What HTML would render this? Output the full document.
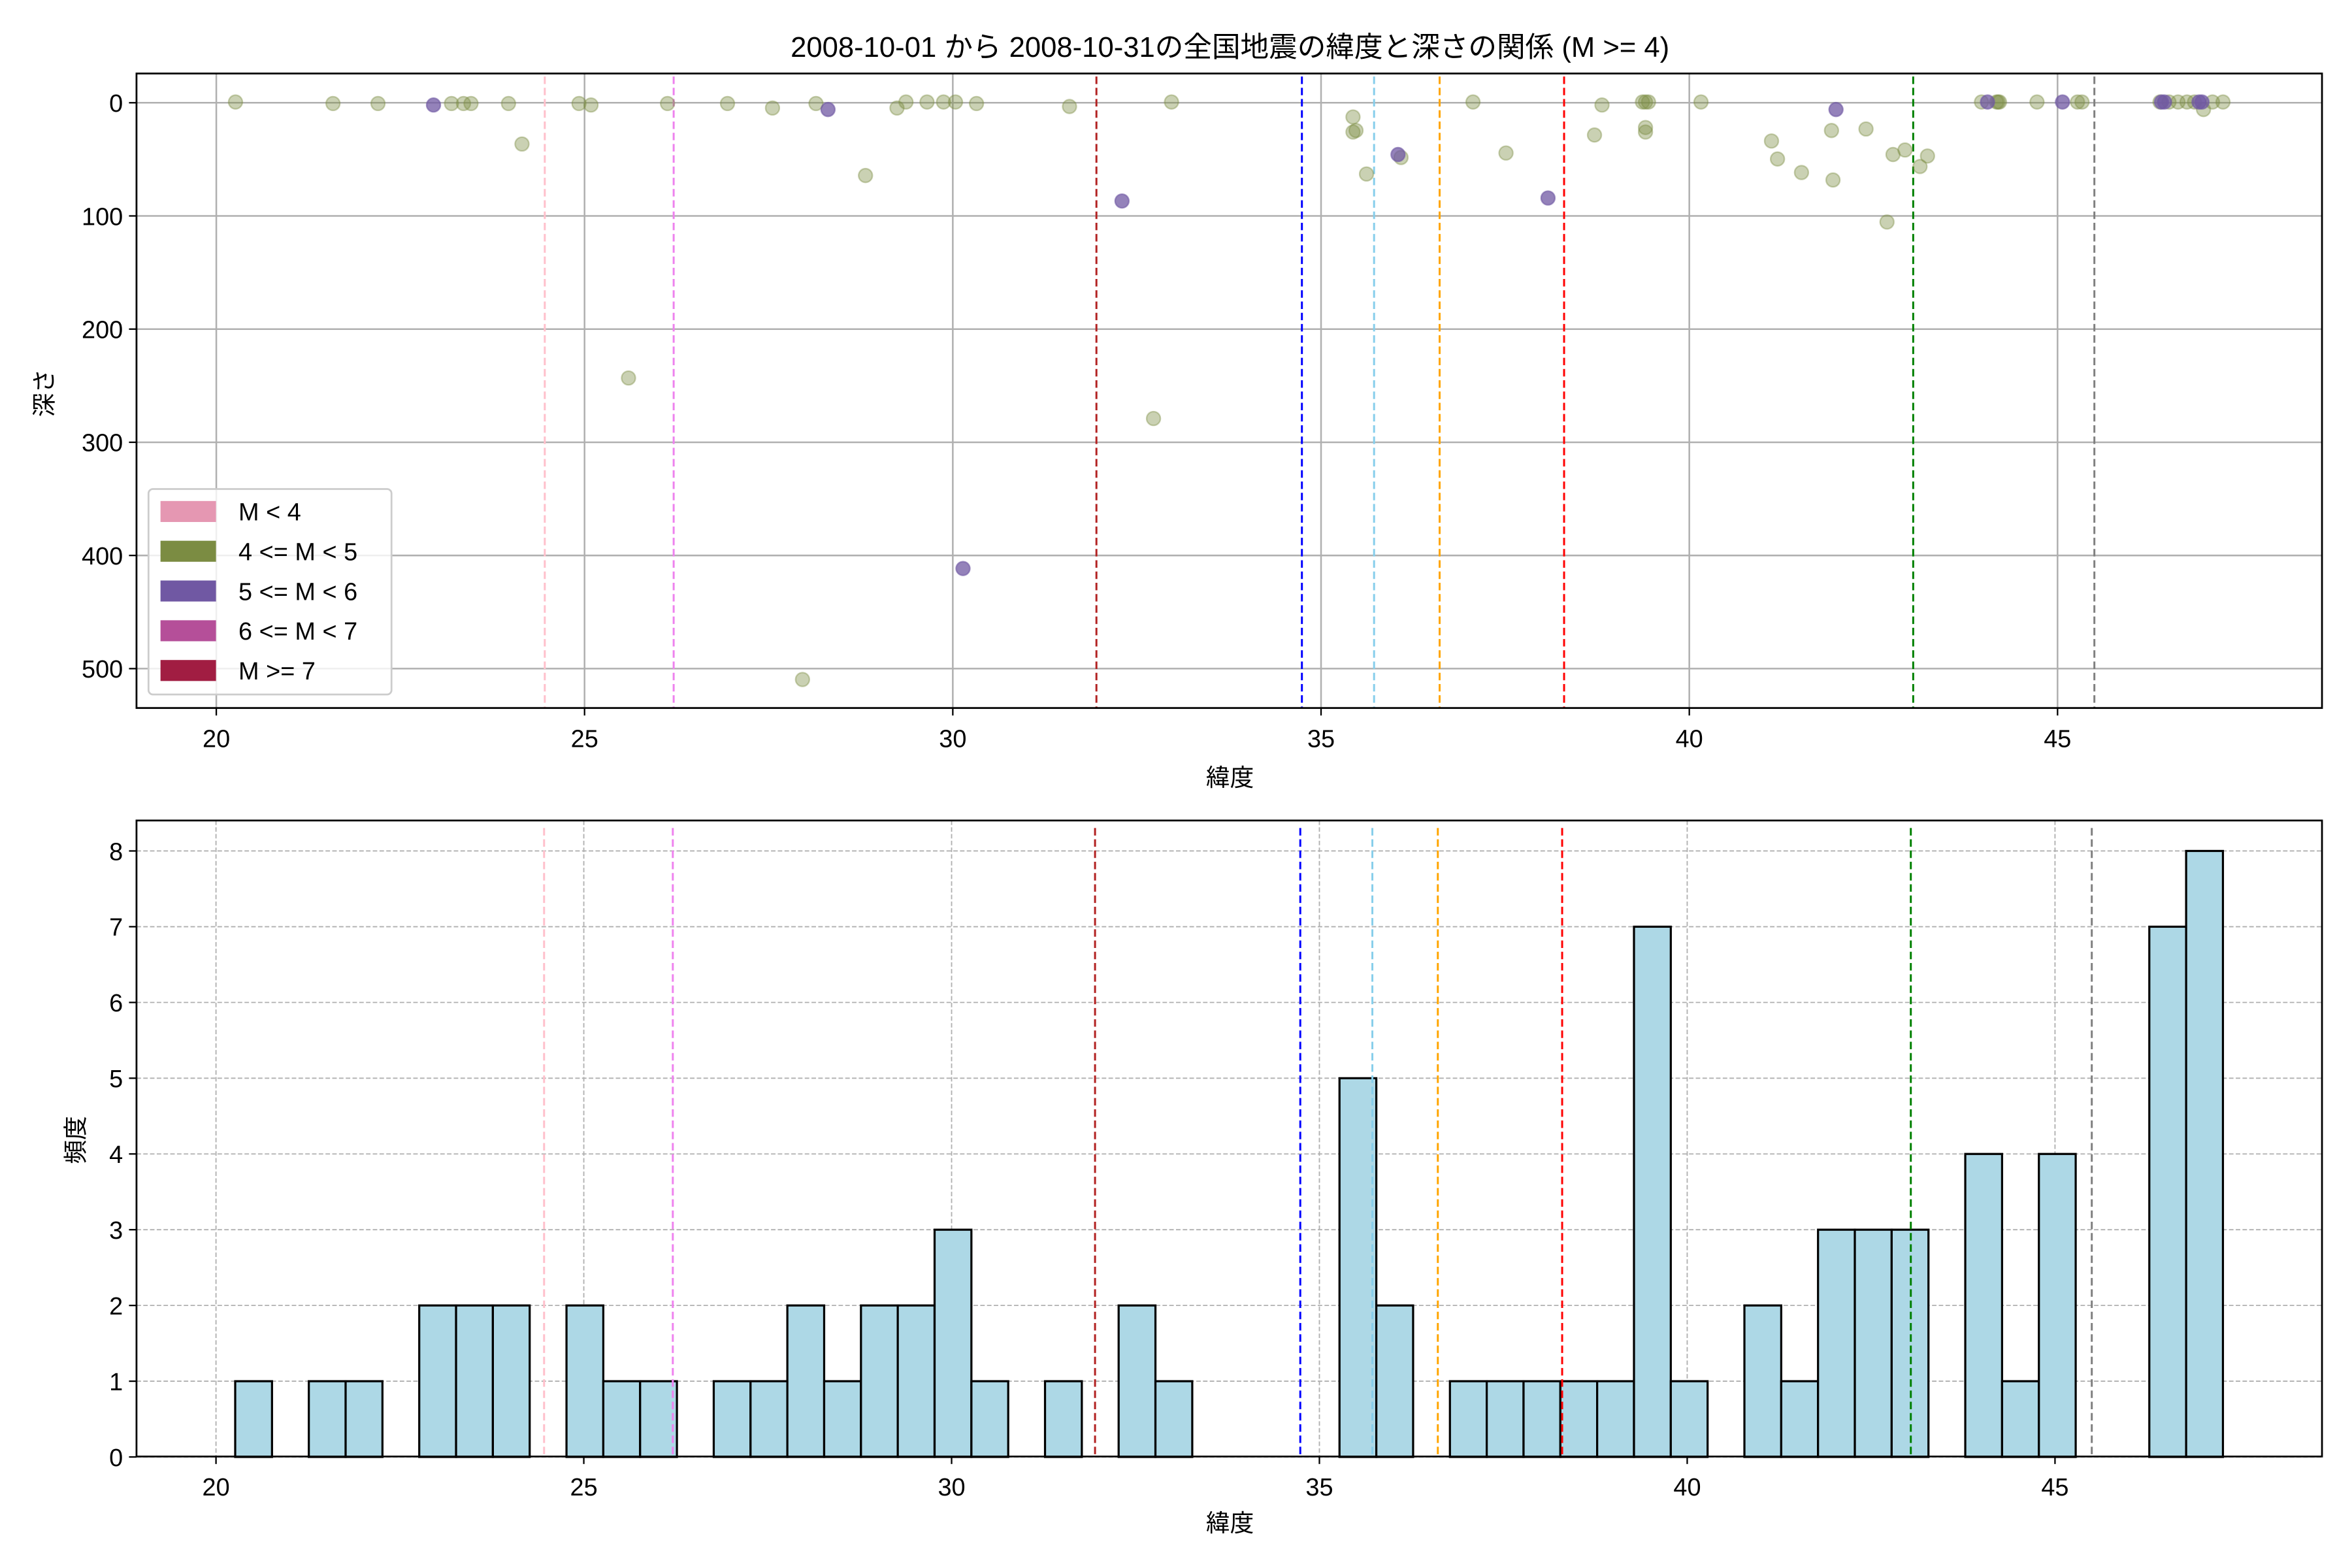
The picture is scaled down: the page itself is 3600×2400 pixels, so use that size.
<!DOCTYPE html>
<html><head><meta charset="utf-8"><style>
html,body{margin:0;padding:0;background:#fff}
svg{display:block}
text{font-family:"Liberation Sans","Noto Sans CJK JP",sans-serif;fill:#000}
</style></head><body>
<svg id="s" width="3600" height="2400" viewBox="0 0 1568 1045.33" xmlns="http://www.w3.org/2000/svg"></svg>
<script>
const s=document.getElementById('s');let h='';
const L=91,R=1548;
const T1=49,B1=472;
const tx=d=>144.2+(d-20)*49.1, ty=v=>68.5+v*0.7545;
const T2=547,B2=971;
const bx=d=>144+(d-20)*49.04, by=v=>971.3-v*50.5;
const FS=16.5;
for(let d=20;d<=45;d+=5){h+=`<line x1="${tx(d)}" y1="${T1}" x2="${tx(d)}" y2="${B1}" stroke="#b0b0b0" stroke-width="1.1"/>`;}
for(let v=0;v<=500;v+=100){h+=`<line x1="${L}" y1="${ty(v)}" x2="${R}" y2="${ty(v)}" stroke="#b0b0b0" stroke-width="1.1"/>`;}
const vl=[[24.46,'pink'],[26.21,'violet'],[31.95,'#b22222'],[34.74,'blue'],[35.72,'skyblue'],[36.61,'orange'],[38.30,'red'],[43.04,'green'],[45.50,'gray']];
const g=[[157,68],[222,69],[252,69],[301,69],[309,69],[314,69],[339,69],[348,96],[386,69],[394,70],[419,252],[445,69],[485,69],[515,72],[544,69],[577,117],[598,72],[604,68],[618,68],[629,68],[637,68],[651,69],[535,453],[713,71],[769,279],[781,68],[902,78],[902,88],[904,87],[911,116],[934,105],[982,68],[1004,102],[1063,90],[1068,70],[1095,68],[1097,68],[1099,68],[1097,88],[1097,85],[1134,68],[1181,94],[1185,106],[1201,115],[1221,87],[1222,120],[1244,86],[1258,148],[1262,103],[1270,100],[1280,111],[1285,104],[1321,68],[1332,68],[1358,68],[1385,68],[1388,68],[1440,68],[1446,68],[1452,68],[1458,68],[1463,68],[1469,73],[1475,68],[1482,68],[1333,68],[1331,68]];
const p=[[289,70],[552,73],[748,134],[932,103],[642,379],[1032,132],[1224,73],[1325,68],[1375,68],[1443,68],[1466,68],[1441,68],[1468,68]];
vl.forEach(([d,c])=>{h+=`<line x1="${tx(d)}" y1="${T1+2}" x2="${tx(d)}" y2="${B1}" stroke="${c}" stroke-width="1.3" stroke-dasharray="5,2.5"/>`;});
g.forEach(([x,y])=>{h+=`<circle cx="${x}" cy="${y}" r="4.6" fill="#7b8c42" fill-opacity="0.4" stroke="#7b8c42" stroke-opacity="0.4" stroke-width="1"/>`;});
p.forEach(([x,y])=>{h+=`<circle cx="${x}" cy="${y}" r="4.6" fill="#7058a3" fill-opacity="0.75" stroke="#7058a3" stroke-opacity="0.6" stroke-width="1"/>`;});
h+=`<rect x="${L}" y="${T1}" width="${R-L}" height="${B1-T1}" fill="none" stroke="#000" stroke-width="1.2"/>`;
for(let d=20;d<=45;d+=5){h+=`<line x1="${tx(d)}" y1="${B1}" x2="${tx(d)}" y2="${B1+5}" stroke="#000"/><text x="${tx(d)}" y="${B1+26}" font-size="${FS}" text-anchor="middle">${d}</text>`;}
for(let v=0;v<=500;v+=100){h+=`<line x1="${L-5}" y1="${ty(v)}" x2="${L}" y2="${ty(v)}" stroke="#000"/><text x="${L-9}" y="${ty(v)+6}" font-size="${FS}" text-anchor="end">${v}</text>`;}
h+=`<rect x="99" y="326" width="162" height="137" rx="3" fill="#fff" fill-opacity="0.8" stroke="#ccc" stroke-width="1.2"/>`;
[['#e597b2','M &lt; 4'],['#7b8c42','4 &lt;= M &lt; 5'],['#7058a3','5 &lt;= M &lt; 6'],['#b54f99','6 &lt;= M &lt; 7'],['#a11d42','M &gt;= 7']].forEach(([c,t],i)=>{const y=341+i*26.5;h+=`<rect x="107" y="${y-7}" width="37" height="14" fill="${c}"/><text x="159" y="${y+6}" font-size="${FS}">${t}</text>`;});
h+=`<text x="820" y="38" font-size="19" text-anchor="middle">2008-10-01 から 2008-10-31の全国地震の緯度と深さの関係 (M &gt;= 4)</text>`;
h+=`<text x="820" y="524" font-size="16" text-anchor="middle">緯度</text>`;
h+=`<text transform="translate(35,262) rotate(-90)" font-size="16" text-anchor="middle">深さ</text>`;
for(let d=20;d<=45;d+=5){h+=`<line x1="${bx(d)}" y1="${T2}" x2="${bx(d)}" y2="${B2}" stroke="#b0b0b0" stroke-width="0.8" stroke-dasharray="3,1.5"/>`;}
for(let v=0;v<=8;v++){h+=`<line x1="${L}" y1="${by(v)}" x2="${R}" y2="${by(v)}" stroke="#b0b0b0" stroke-width="0.8" stroke-dasharray="3,1.5"/>`;}
const c=[1,0,1,1,0,2,2,2,0,2,1,1,0,1,1,2,1,2,2,3,1,0,1,0,2,1,0,0,0,0,5,2,0,1,1,1,1,1,7,1,0,2,1,3,3,3,0,4,1,4,0,0,7,8];
const bw=24.54,b0=156.8;
c.forEach((n,i)=>{if(n>0)h+=`<rect x="${b0+i*bw}" y="${by(n)}" width="${bw}" height="${by(0)-by(n)}" fill="#add8e6" stroke="#000" stroke-width="1.4"/>`;});
vl.forEach(([d,cc])=>{h+=`<line x1="${bx(d)}" y1="${T2+5}" x2="${bx(d)}" y2="${B2}" stroke="${cc}" stroke-width="1.3" stroke-dasharray="5,2.5"/>`;});
h+=`<rect x="${L}" y="${T2}" width="${R-L}" height="${B2-T2}" fill="none" stroke="#000" stroke-width="1.2"/>`;
for(let d=20;d<=45;d+=5){h+=`<line x1="${bx(d)}" y1="${B2}" x2="${bx(d)}" y2="${B2+5}" stroke="#000"/><text x="${bx(d)}" y="${B2+26}" font-size="${FS}" text-anchor="middle">${d}</text>`;}
for(let v=0;v<=8;v++){h+=`<line x1="${L-5}" y1="${by(v)}" x2="${L}" y2="${by(v)}" stroke="#000"/><text x="${L-9}" y="${by(v)+6}" font-size="${FS}" text-anchor="end">${v}</text>`;}
h+=`<text x="820" y="1021" font-size="16" text-anchor="middle">緯度</text>`;
h+=`<text transform="translate(56,760) rotate(-90)" font-size="16" text-anchor="middle">頻度</text>`;
s.innerHTML=h;
</script>
</body></html>
